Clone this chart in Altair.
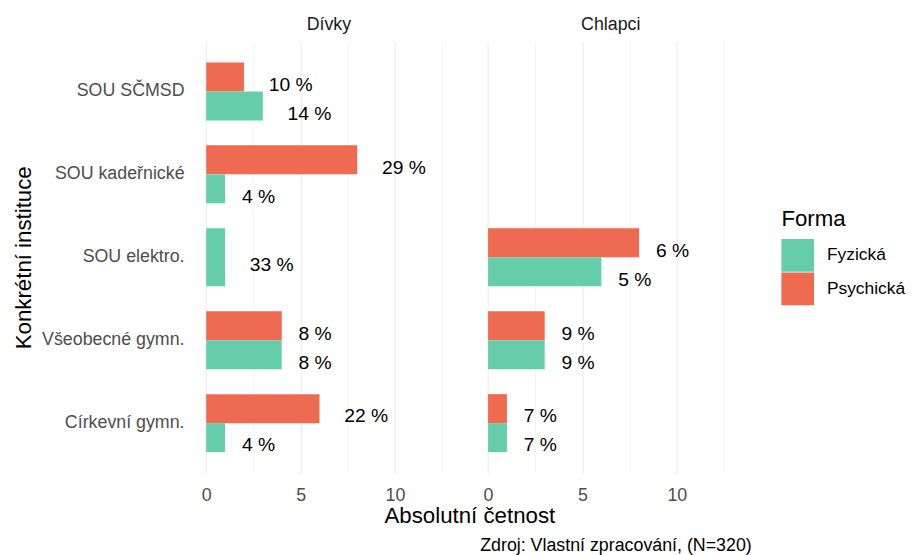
import altair as alt
import pandas as pd

F = "Liberation Sans"

panel = ["Dívky"] * 9 + ["Chlapci"] * 6
instituce = [
    "SOU SČMSD", "SOU SČMSD", "SOU kadeřnické", "SOU kadeřnické", "SOU elektro.",
    "Všeobecné gymn.", "Všeobecné gymn.", "Církevní gymn.", "Církevní gymn.",
    "SOU elektro.", "SOU elektro.", "Všeobecné gymn.", "Všeobecné gymn.",
    "Církevní gymn.", "Církevní gymn.",
]
forma = [
    "Psychická", "Fyzická", "Psychická", "Fyzická", "Fyzická",
    "Psychická", "Fyzická", "Psychická", "Fyzická",
    "Psychická", "Fyzická", "Psychická", "Fyzická", "Psychická", "Fyzická",
]
cetnost = [2, 3, 8, 1, 1, 4, 4, 6, 1, 8, 6, 3, 3, 1, 1]
podil = ["10 %", "14 %", "29 %", "4 %", "33 %", "8 %", "8 %", "22 %", "4 %",
         "6 %", "5 %", "9 %", "9 %", "7 %", "7 %"]

inst_order = ["SOU SČMSD", "SOU kadeřnické", "SOU elektro.", "Všeobecné gymn.", "Církevní gymn."]
panel_order = ["Dívky", "Chlapci"]
forma_order = ["Fyzická", "Psychická"]
colors = ["#66CDAA", "#EE6A50"]
x_ticks = [0, 2.5, 5, 7.5, 10, 12.5]

df = pd.DataFrame({"panel": panel, "instituce": instituce, "forma": forma,
                   "cetnost": cetnost, "podil": podil})

TXT = 18
TTL = 22.5

x_enc = alt.X(
    "cetnost:Q",
    scale=alt.Scale(domain=[-0.65, 13.65], nice=False),
    axis=alt.Axis(
        values=x_ticks, title=None,
        labelExpr="datum.value % 5 == 0 ? datum.label : ''",
        ticks=False, domain=False, labelPadding=14,
        labelFont=F, labelFontSize=TXT, labelColor="#4D4D4D",
        gridColor="#EBEBEB",
        gridWidth={"condition": {"test": "datum.value % 5 != 0", "value": 0.6}, "value": 1.1},
    ),
)
y_enc = alt.Y(
    "instituce:N", sort=inst_order,
    scale=alt.Scale(paddingInner=0, paddingOuter=0.1),
    axis=alt.Axis(
        title="Konkrétní instituce", titleFont=F, titleFontSize=TTL, titleFontWeight="normal",
        titleColor="black", titlePadding=6,
        labelFont=F, labelFontSize=TXT, labelColor="#4D4D4D", labelPadding=10,
        ticks=False, domain=False, gridColor="#EBEBEB", gridWidth=1.1, bandPosition=0.5,
    ),
)
yoff_enc = alt.YOffset("forma:N", sort=["Psychická", "Fyzická"],
                       scale=alt.Scale(paddingInner=0, paddingOuter=0.43))
color_enc = alt.Color(
    "forma:N",
    scale=alt.Scale(domain=forma_order, range=colors),
    legend=alt.Legend(
        title="Forma", orient="none", legendX=594, legendY=168,
        titleFont=F, titleFontSize=TTL, titleFontWeight="normal", titleColor="black",
        titlePadding=9, labelFont=F, labelFontSize=17.6, labelColor="black",
        symbolType="square", symbolSize=1089, symbolStrokeWidth=0, symbolOpacity=1,
        rowPadding=1, labelOffset=13,
    ),
)

base = alt.Chart().transform_joinaggregate(n="count()", groupby=["panel", "instituce"])

bars2 = base.transform_filter("datum.n == 2").mark_bar().encode(
    x=x_enc, y=y_enc, yOffset=yoff_enc, color=color_enc)
bars1 = base.transform_filter("datum.n == 1").mark_bar(height={"band": 0.7}).encode(
    x=x_enc, y=y_enc, color=color_enc)


def labels(n, long_label):
    cond = f"datum.n == {n} && length(datum.podil) {'>' if long_label else '<='} 3"
    enc = dict(x=x_enc, y=y_enc, text="podil:N")
    if n == 2:
        enc["yOffset"] = yoff_enc
    return base.transform_filter(cond).mark_text(
        align="left", baseline="middle", dx=25 if long_label else 17, dy=8,
        font=F, fontSize=19.5, color="black").encode(**enc)


layers = alt.layer(bars2, bars1, labels(2, True), labels(2, False),
                   labels(1, True), labels(1, False)).properties(width=273, height=436)

chart = layers.facet(
    data=df,
    column=alt.Column(
        "panel:N", sort=panel_order,
        header=alt.Header(
            title="Absolutní četnost", titleOrient="bottom", labelOrient="top",
            labelFont=F, labelFontSize=TXT, labelColor="#1A1A1A", labelPadding=8,
            titleFont=F, titleFontSize=TTL, titleFontWeight="normal", titleColor="black",
            titlePadding=-9,
        ),
    ),
    spacing=12,
).properties(
    padding={"left": 4, "top": 5, "right": 0, "bottom": 0},
    title=alt.TitleParams(
        "Zdroj: Vlastní zpracování, (N=320)", orient="bottom", anchor="end",
        font=F, fontSize=TXT, fontWeight="normal", color="black", offset=9, dx=-156,
    ),
).configure(background="white").configure_view(stroke=None)

chart.save("out.html", embed_options={"renderer": "svg", "actions": False})
